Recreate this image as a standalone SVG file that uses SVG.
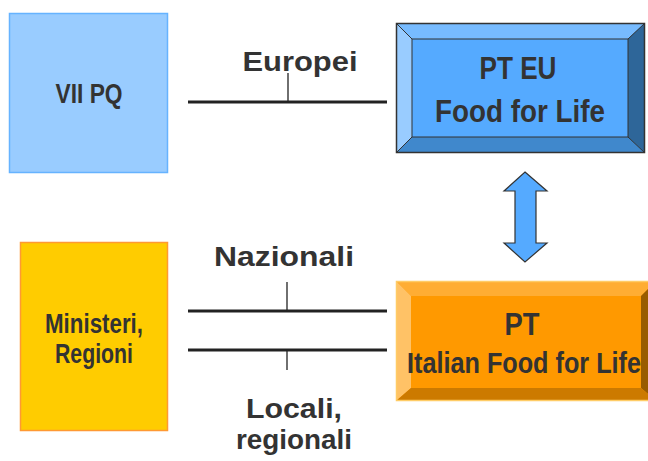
<svg xmlns="http://www.w3.org/2000/svg" width="648" height="461" viewBox="0 0 648 461">
<style>
  .t { font-family: "Liberation Sans", Arial, sans-serif; font-weight: bold; fill: #333333; text-anchor: middle; }
  .ln { stroke: #222222; stroke-width: 3; fill: none; }
  .tk { stroke: #222222; stroke-width: 1.3; fill: none; }
  .edge { stroke: #333333; stroke-width: 1; }
</style>
<rect width="648" height="461" fill="#ffffff"/>

<g id="vii-pq">
  <rect x="9.5" y="13.5" width="158" height="159" fill="#99ccff" stroke="#66b3ff" stroke-width="1.5"/>
  <text class="t" x="89" y="103" font-size="27" textLength="67" lengthAdjust="spacingAndGlyphs">VII PQ</text>
</g>

<g id="ministeri">
  <rect x="20.5" y="242.5" width="147" height="188" fill="#ffcc00" stroke="#ff9933" stroke-width="1.5"/>
  <text class="t" x="94" y="333" font-size="28" textLength="98" lengthAdjust="spacingAndGlyphs">Ministeri,</text>
  <text class="t" x="94" y="363" font-size="28" textLength="78" lengthAdjust="spacingAndGlyphs">Regioni</text>
</g>

<g id="pt-eu">
  <rect x="396" y="23" width="249" height="130" fill="#55aaff"/>
  <polygon points="396,23 645,23 628,39 412,39" fill="#77bbff"/>
  <polygon points="396,23 412,39 412,137 396,153" fill="#99ccff"/>
  <polygon points="645,23 645,153 628,137 628,39" fill="#2e6699"/>
  <polygon points="396,153 412,137 628,137 645,153" fill="#4088cc"/>
  <rect x="412" y="39" width="216" height="98" fill="#55aaff" stroke="#333333" stroke-width="1"/>
  <line class="edge" x1="396" y1="23" x2="412" y2="39"/>
  <line class="edge" x1="645" y1="23" x2="628" y2="39"/>
  <line class="edge" x1="396" y1="153" x2="412" y2="137"/>
  <line class="edge" x1="645" y1="153" x2="628" y2="137"/>
  <rect x="396.5" y="23.5" width="248" height="129" fill="none" stroke="#333333" stroke-width="1.5"/>
  <text class="t" x="518" y="79" font-size="32" textLength="77" lengthAdjust="spacingAndGlyphs">PT EU</text>
  <text class="t" x="520" y="122" font-size="31" textLength="170" lengthAdjust="spacingAndGlyphs">Food for Life</text>
</g>

<g id="pt-italian">
  <rect x="396" y="281" width="260" height="120" fill="#ff9900"/>
  <polygon points="396,281 656,281 641,296 411,296" fill="#ffad33"/>
  <polygon points="396,281 411,296 411,388 396,401" fill="#ffc266"/>
  <polygon points="656,281 656,401 641,388 641,296" fill="#995c00"/>
  <polygon points="396,401 411,388 641,388 656,401" fill="#cc7a00"/>
  <rect x="396.5" y="281.5" width="260" height="119" fill="none" stroke="#ffcc66" stroke-width="1.5"/>
  <text class="t" x="522" y="335" font-size="32" textLength="35" lengthAdjust="spacingAndGlyphs">PT</text>
  <text class="t" x="524" y="373" font-size="30" textLength="234" lengthAdjust="spacingAndGlyphs">Italian Food for Life</text>
</g>

<g id="connectors">
  <line class="ln" x1="188" y1="102" x2="387" y2="102"/>
  <line class="tk" x1="288" y1="73" x2="288" y2="102"/>
  <line class="ln" x1="188" y1="311" x2="387" y2="311"/>
  <line class="tk" x1="287" y1="282" x2="287" y2="311"/>
  <line class="ln" x1="188" y1="350" x2="387" y2="350"/>
  <line class="tk" x1="287" y1="350" x2="287" y2="370"/>
  <polygon points="525,172 547,191 536,191 536,243 547,243 525,262 504,243 515,243 515,191 504,191" fill="#55aaff" stroke="#333333" stroke-width="1.2" stroke-linejoin="miter"/>
</g>

<g id="labels">
  <text class="t" x="300" y="71" font-size="28" textLength="115" lengthAdjust="spacingAndGlyphs">Europei</text>
  <text class="t" x="284" y="266" font-size="28" textLength="140" lengthAdjust="spacingAndGlyphs">Nazionali</text>
  <text class="t" x="294" y="418" font-size="28" textLength="96" lengthAdjust="spacingAndGlyphs">Locali,</text>
  <text class="t" x="294" y="449" font-size="28" textLength="116" lengthAdjust="spacingAndGlyphs">regionali</text>
</g>
</svg>
